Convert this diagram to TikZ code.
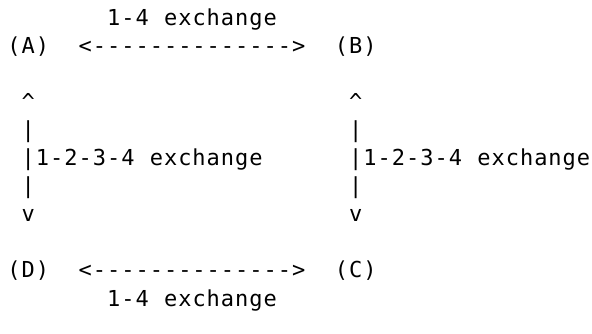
\documentclass[tikz,border=0pt]{standalone}
\usepackage{fontspec}
\newfontfamily\asciifont{DejaVu Sans Mono}
\newlength\cw
\setlength\cw{14.24pt}
\ExplSyntaxOn
\NewDocumentCommand\cells{m}{\str_map_inline:nn{#1}{\makebox[\cw][c]{##1}}}
\ExplSyntaxOff
\newcommand\gap{\hspace{\cw}}
\tikzset{
  ascii/.style={font=\asciifont\fontsize{22pt}{26pt}\selectfont, text=black,
    inner sep=0pt, outer sep=0pt, anchor=base west},
}
\begin{document}
\begin{tikzpicture}
\useasboundingbox (0pt,0pt) rectangle (592pt,-333pt);
\fill[white] (0pt,0pt) rectangle (592pt,-333pt);
\begin{scope}[shift={(6.9pt,-25pt)}, x=14.24pt, y=-28.1pt]
  % top
  \node[ascii] (topLabel) at (7,0) {\cells{1-4}\gap\cells{exchange}};
  \node[ascii] (A) at (0,1) {\cells{(A)}};
  \node[ascii] (AB) at (5,1) {\cells{<-------------->}};
  \node[ascii] (B) at (23,1) {\cells{(B)}};
  % left vertical
  \node[ascii] (ADup) at (1,3) {\cells{^}};
  \node[ascii] (ADbar1) at (1,4) {\cells{|}};
  \node[ascii] (ADbar2) at (1,5) {\cells{|}};
  \node[ascii] (ADlabel) at (2,5) {\cells{1-2-3-4}\gap\cells{exchange}};
  \node[ascii] (ADbar3) at (1,6) {\cells{|}};
  \node[ascii] (ADdown) at (1,7) {\cells{v}};
  % right vertical
  \node[ascii] (BCup) at (24,3) {\cells{^}};
  \node[ascii] (BCbar1) at (24,4) {\cells{|}};
  \node[ascii] (BCbar2) at (24,5) {\cells{|}};
  \node[ascii] (BClabel) at (25,5) {\cells{1-2-3-4}\gap\cells{exchange}};
  \node[ascii] (BCbar3) at (24,6) {\cells{|}};
  \node[ascii] (BCdown) at (24,7) {\cells{v}};
  % bottom
  \node[ascii] (D) at (0,9) {\cells{(D)}};
  \node[ascii] (DC) at (5,9) {\cells{<-------------->}};
  \node[ascii] (C) at (23,9) {\cells{(C)}};
  \node[ascii] (bottomLabel) at (7,10) {\cells{1-4}\gap\cells{exchange}};
\end{scope}
\end{tikzpicture}
\end{document}
